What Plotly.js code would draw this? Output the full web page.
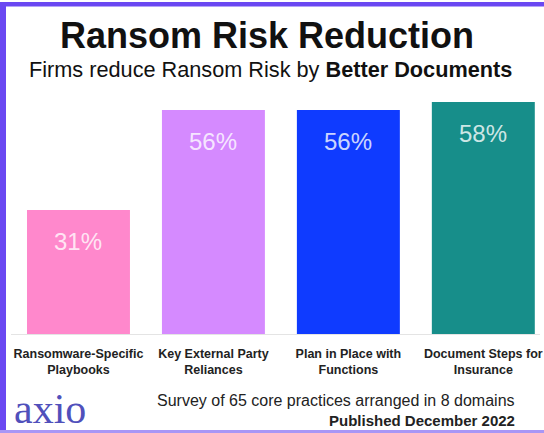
<!DOCTYPE html>
<html><head><meta charset="utf-8">
<script src="https://cdn.plot.ly/plotly-3.0.1.min.js"></script>
<style>html,body{margin:0;padding:0;background:#fff;overflow:hidden}#chart{width:544px;height:433px}</style>
</head><body><div id="chart"></div>
<script>
const categories = ["Ransomware-Specific<br>Playbooks", "Key External Party<br>Reliances", "Plan in Place with<br>Functions", "Document Steps for<br>Insurance"];
const values = [31, 56, 56, 58];
const valueLabels = ["31%", "56%", "56%", "58%"];
const barColors = ["#FF88CC", "#D58AFF", "#0F3BFF", "#178E8A"];
const titleText = "Ransom Risk Reduction";
const subtitleText = "Firms reduce Ransom Risk by <b>Better Documents</b>";
const noteText = "Survey of 65 core practices arranged in 8 domains";
const publishedText = "<b>Published December 2022</b>";
const logoText = "axio";

const W = 544, H = 433, M = {l: 11, r: 4, t: 94, b: 99};
const pw = W - M.l - M.r, ph = H - M.t - M.b;
const px = x => (x - M.l) / pw;
const py = y => (H - M.b - y) / ph;
const sans = '"Liberation Sans", Arial, sans-serif';

const annotations = [];
values.forEach((v, i) => {
  annotations.push({x: categories[i], y: v, xref: 'x', yref: 'y', yanchor: 'middle', yshift: -31,
    showarrow: false, text: valueLabels[i],
    font: {family: sans, size: 24, color: 'rgba(255,255,255,0.8)'}});
});
annotations.push(
  {xref: 'paper', yref: 'paper', x: px(267), y: py(36), xanchor: 'center', yanchor: 'middle', showarrow: false,
   text: '<b>' + titleText + '</b>', font: {family: sans, size: 36, color: '#111'}},
  {xref: 'paper', yref: 'paper', x: px(270), y: py(70), xanchor: 'center', yanchor: 'middle', showarrow: false,
   text: subtitleText, font: {family: sans, size: 21.7, color: '#111'}},
  {xref: 'paper', yref: 'paper', x: px(517), y: py(400.5), xanchor: 'right', yanchor: 'middle', showarrow: false,
   text: noteText, font: {family: sans, size: 16, color: '#222'}},
  {xref: 'paper', yref: 'paper', x: px(517), y: py(420.5), xanchor: 'right', yanchor: 'middle', showarrow: false,
   text: publishedText, font: {family: sans, size: 15, color: '#222'}},
  {xref: 'paper', yref: 'paper', x: px(12), y: py(409), xanchor: 'left', yanchor: 'middle', showarrow: false,
   text: logoText, font: {family: '"Liberation Serif", "Times New Roman", serif', size: 42, color: '#5050BB'}}
);

const shapes = [
  {type: 'rect', xref: 'paper', yref: 'paper', x0: px(0), x1: px(544), y0: py(2), y1: py(6.5), fillcolor: '#6A48F2', line: {width: 0}},
  {type: 'rect', xref: 'paper', yref: 'paper', x0: px(0), x1: px(6), y0: py(2), y1: py(433), fillcolor: '#6A48F2', line: {width: 0}},
  {type: 'rect', xref: 'paper', yref: 'paper', x0: px(0), x1: px(544), y0: py(430), y1: py(433), fillcolor: '#A896F6', line: {width: 0}}
];

const trace = {
  type: 'bar', x: categories, y: values,
  marker: {color: barColors, line: {width: 0}},
  hoverinfo: 'none'
};

const layout = {
  width: W, height: H, margin: M,
  paper_bgcolor: '#fff', plot_bgcolor: '#fff',
  bargap: 0.237, showlegend: false,
  xaxis: {range: [-0.5, 3.42], showline: true, linecolor: '#E4E4E4', linewidth: 1, ticks: '',
    tickangle: 0, automargin: false, ticklabelstandoff: 8,
    showgrid: false, zeroline: false, fixedrange: true,
    tickfont: {family: sans, size: 12.5, color: '#222', weight: 'bold'}},
  yaxis: {range: [0, 60], visible: false, fixedrange: true},
  annotations: annotations, shapes: shapes
};

Plotly.newPlot('chart', [trace], layout, {displayModeBar: false, staticPlot: true});
</script></body></html>
